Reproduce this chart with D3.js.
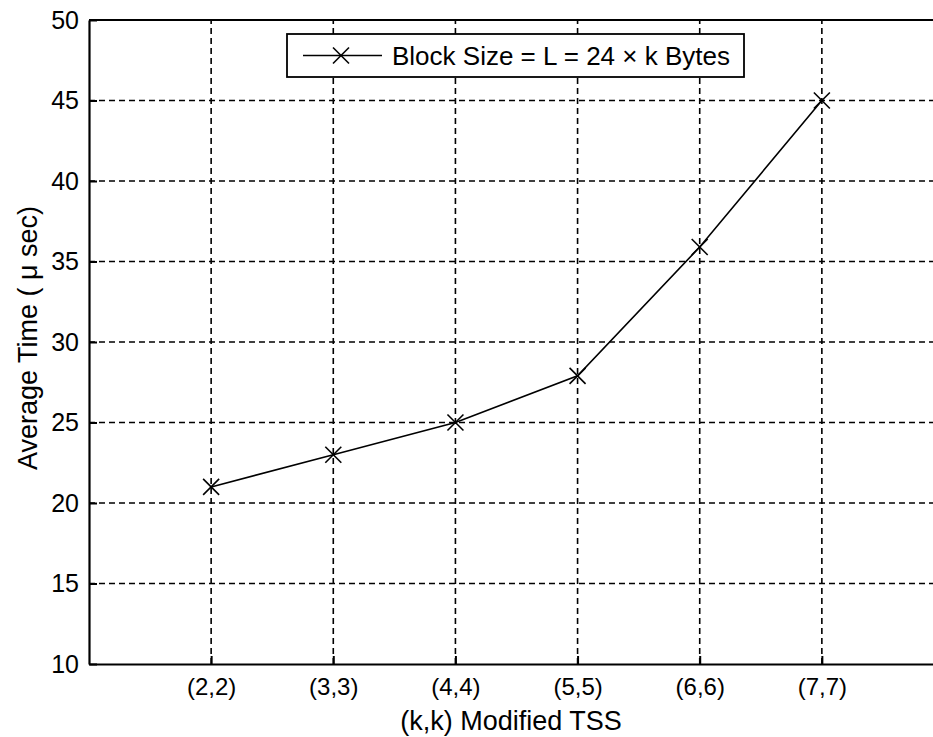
<!DOCTYPE html>
<html>
<head>
<meta charset="utf-8">
<script src="https://cdn.jsdelivr.net/npm/d3@7/dist/d3.min.js"></script>
<style>
  html, body { margin: 0; padding: 0; background: #fff; }
  svg { display: block; }
  text { font-family: "Liberation Sans", Arial, Helvetica, sans-serif; fill: #000; }
</style>
</head>
<body>
<svg id="chart" width="933" height="737"></svg>
<script>
// ---- data ----
const categories = ["(2,2)", "(3,3)", "(4,4)", "(5,5)", "(6,6)", "(7,7)"];
const kValues = [2, 3, 4, 5, 6, 7];
const avgTime = [21.0, 23.0, 25.0, 27.9, 35.9, 45.0];
const yTicks = [10, 15, 20, 25, 30, 35, 40, 45, 50];
const seriesName = "Block Size = L = 24 \u00d7 k Bytes";
const xLabel = "(k,k) Modified TSS";
const yLabel = "Average Time ( \u03bc sec)";

(function () {
// ---- layout ----
const svg = d3.select("#chart");
const pL = 89, pR = 944, pT = 20, pB = 664;
const x = d3.scaleLinear().domain([1, 8]).range([pL, pR]);
const y = d3.scaleLinear().domain([10, 50]).range([pB, pT]);

const fs = 24;

// grid lines
const grid = svg.append("g")
  .attr("stroke", "#000").attr("stroke-width", 1.6)
  .attr("stroke-dasharray", "6,4");
grid.selectAll("line.v").data(kValues).enter().append("line")
  .attr("x1", d => x(d)).attr("x2", d => x(d))
  .attr("y1", y(10)).attr("y2", y(50));
grid.selectAll("line.h").data(yTicks.filter(t => t > 10 && t < 50)).enter().append("line")
  .attr("y1", d => y(d)).attr("y2", d => y(d))
  .attr("x1", x(1)).attr("x2", x(8));

// axes (box)
const xAxis = d3.axisBottom(x).tickValues(kValues)
  .tickFormat((d, i) => categories[i]).tickSizeInner(-8).tickSizeOuter(0).tickPadding(14);
const gx = svg.append("g").attr("transform", `translate(0,${pB})`).call(xAxis);
gx.select(".domain").attr("stroke-width", 2.2);
gx.selectAll(".tick line").attr("stroke-width", 2);
gx.selectAll("text").attr("font-size", fs).attr("font-family", null);

const yAxis = d3.axisLeft(y).tickValues(yTicks).tickSizeInner(-8).tickSizeOuter(0).tickPadding(10);
const gy = svg.append("g").attr("transform", `translate(${pL},0)`).call(yAxis);
gy.select(".domain").attr("stroke-width", 2.2);
gy.selectAll(".tick line").attr("stroke-width", 2);
gy.selectAll("text").attr("font-size", 25).attr("font-family", null);

// top border
svg.append("line").attr("x1", pL).attr("x2", pR).attr("y1", pT).attr("y2", pT)
  .attr("stroke", "#000").attr("stroke-width", 2.2);

// series line
const pts = kValues.map((k, i) => [k, avgTime[i]]);
svg.append("path").datum(pts)
  .attr("fill", "none").attr("stroke", "#000").attr("stroke-width", 1.6)
  .attr("d", d3.line().x(d => x(d[0])).y(d => y(d[1])));

// markers
const m = 8;
function cross(g, cx, cy) {
  g.append("line").attr("x1", cx - m).attr("y1", cy - m).attr("x2", cx + m).attr("y2", cy + m);
  g.append("line").attr("x1", cx - m).attr("y1", cy + m).attr("x2", cx + m).attr("y2", cy - m);
}
const mk = svg.append("g").attr("stroke", "#000").attr("stroke-width", 1.6);
pts.forEach(d => cross(mk, x(d[0]), y(d[1])));

// legend
const lg = svg.append("g");
lg.append("rect").attr("x", 287).attr("y", 34).attr("width", 457).attr("height", 43)
  .attr("fill", "#fff").attr("stroke", "#000").attr("stroke-width", 1.8);
lg.append("line").attr("x1", 303).attr("x2", 382).attr("y1", 55.5).attr("y2", 55.5)
  .attr("stroke", "#000").attr("stroke-width", 1.6);
const lgm = lg.append("g").attr("stroke", "#000").attr("stroke-width", 1.6);
cross(lgm, 341, 55.5);
lg.append("text").attr("x", 392).attr("y", 65).attr("font-size", 26).text(seriesName);

// axis labels
svg.append("text").attr("x", 511).attr("y", 730).attr("text-anchor", "middle")
  .attr("font-size", 27).text(xLabel);
svg.append("text").attr("transform", "translate(37,338) rotate(-90)")
  .attr("text-anchor", "middle").attr("font-size", 27).text(yLabel);
})();
</script>
</body>
</html>
